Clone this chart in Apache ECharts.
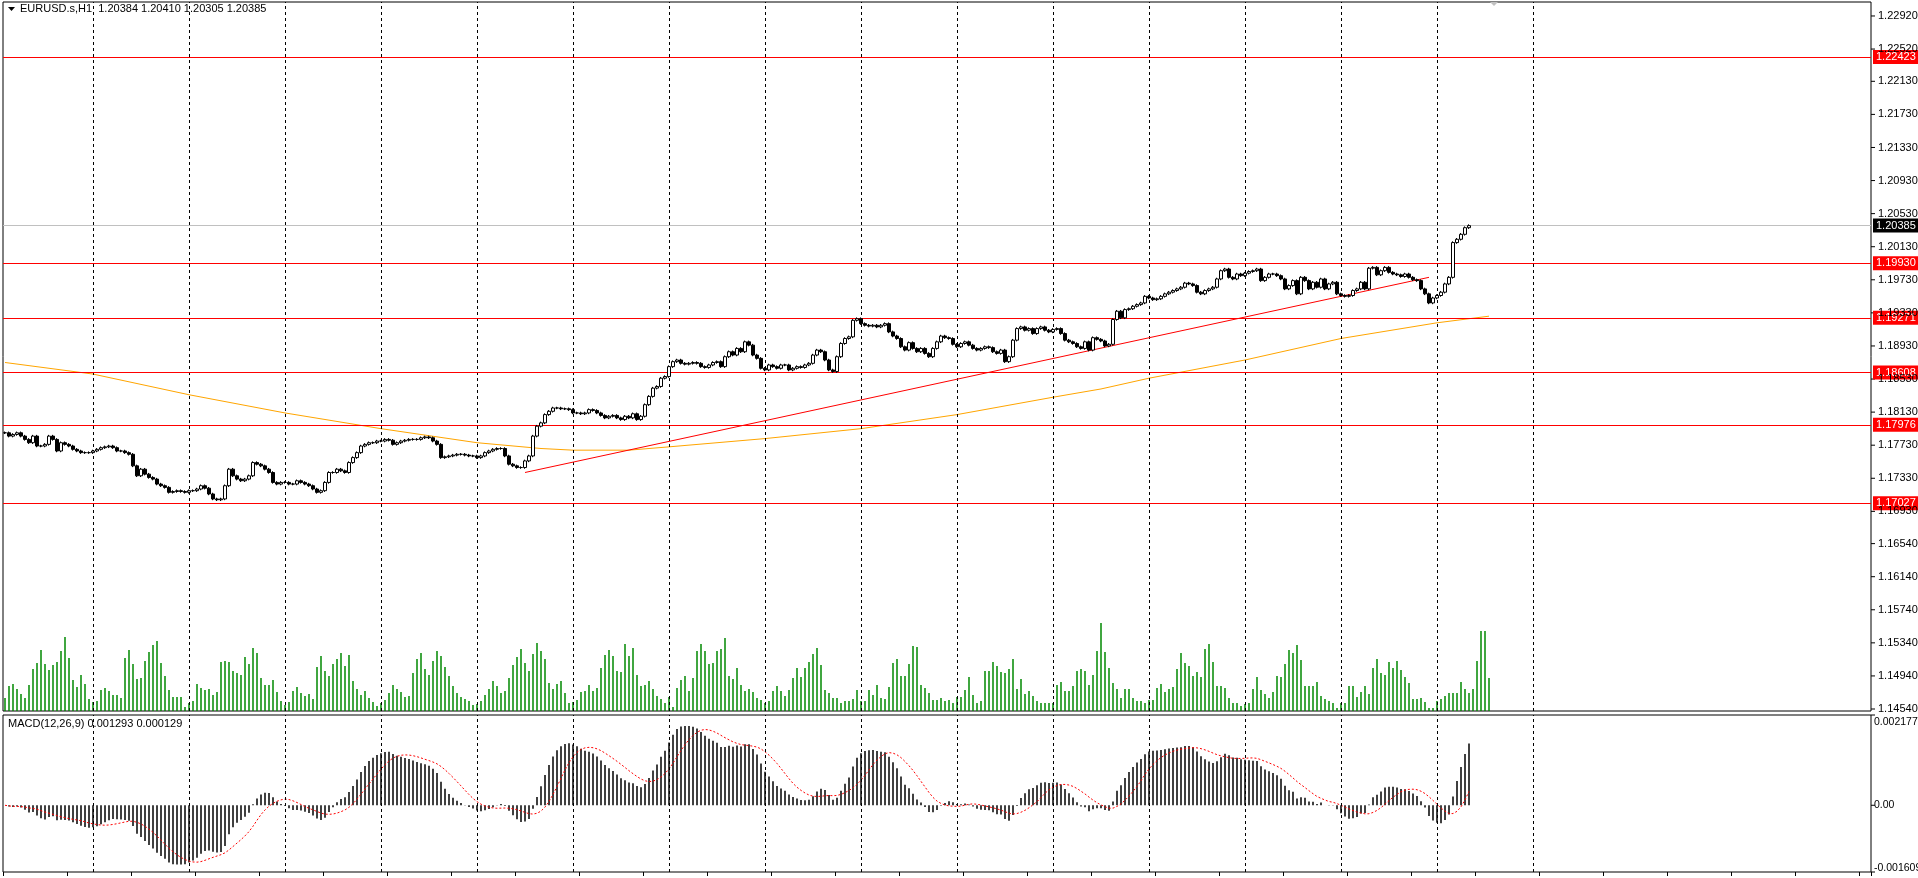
<!DOCTYPE html>
<html><head><meta charset="utf-8">
<script src="https://cdn.jsdelivr.net/npm/echarts@6/dist/echarts.min.js"></script>
<style>html,body{margin:0;padding:0;background:#fff}#c{width:1918px;height:878px}</style>
</head><body><div id="c"></div>
<script>
// ---- data ----
const closes = [
// day 0
1.1788,1.1784,1.1786,1.1788,1.1784,1.1780,1.1776,1.1784,1.1772,1.1772,1.1774,1.1784,1.1780,1.1766,1.1776,1.1774,1.1772,1.1768,1.1766,1.1764,1.1764,1.1764,
// day 1
1.1766,1.1768,1.1770,1.1771,1.1772,1.1770,1.1766,1.1766,1.1764,1.1762,1.1748,1.1736,1.1744,1.1738,1.1734,1.1732,1.1726,1.1724,1.1722,1.1716,1.1717,1.1718,1.1717,1.1716,
// day 2
1.1718,1.1718,1.1720,1.1724,1.1721,1.1714,1.1708,1.1707,1.1708,1.1724,1.1744,1.1736,1.1732,1.1730,1.1732,1.1736,1.1752,1.1750,1.1748,1.1744,1.1740,1.1728,1.1726,1.1728,
// day 3
1.1728,1.1726,1.1726,1.1730,1.1728,1.1726,1.1724,1.1720,1.1716,1.1718,1.1728,1.1740,1.1740,1.1744,1.1742,1.1740,1.1752,1.1758,1.1764,1.1772,1.1774,1.1776,1.1776,1.1778,
// day 4
1.1778,1.1780,1.1779,1.1774,1.1776,1.1778,1.1779,1.1780,1.1780,1.1780,1.1782,1.1783,1.1782,1.1778,1.1774,1.1758,1.1759,1.1760,1.1761,1.1762,1.1762,1.1761,1.1760,1.1760,
// day 5
1.1758,1.1760,1.1764,1.1766,1.1768,1.1769,1.1769,1.1760,1.1750,1.1748,1.1746,1.1746,1.1754,1.1760,1.1784,1.1796,1.1800,1.1810,1.1814,1.1818,1.1818,1.1817,1.1817,1.1816,
// day 6
1.1812,1.1812,1.1811,1.1812,1.1816,1.1815,1.1812,1.1809,1.1806,1.1808,1.1809,1.1806,1.1804,1.1808,1.1806,1.1811,1.1804,1.1808,1.1822,1.1832,1.1842,1.1844,1.1854,1.1856,
// day 7
1.1868,1.1874,1.1876,1.1872,1.1871,1.1872,1.1873,1.1872,1.1868,1.1867,1.1870,1.1873,1.1874,1.1868,1.1880,1.1886,1.1882,1.1890,1.1886,1.1898,1.1894,1.1882,1.1878,1.1866,
// day 8
1.1864,1.1870,1.1868,1.1866,1.1870,1.1870,1.1864,1.1866,1.1868,1.1867,1.1870,1.1872,1.1882,1.1888,1.1886,1.1876,1.1864,1.1862,1.1880,1.1896,1.1902,1.1904,1.1924,1.1926,
// day 9
1.1920,1.1918,1.1917,1.1918,1.1916,1.1918,1.1920,1.1910,1.1905,1.1902,1.1892,1.1888,1.1897,1.1890,1.1886,1.1890,1.1884,1.1880,1.1890,1.1898,1.1905,1.1903,1.1902,1.1895,
// day 10
1.1892,1.1896,1.1898,1.1894,1.1890,1.1888,1.1890,1.1892,1.1891,1.1886,1.1884,1.1888,1.1874,1.1880,1.1900,1.1914,1.1916,1.1912,1.1914,1.1908,1.1914,1.1916,1.1912,1.1910,
// day 11 - 15
1.1913,1.1914,1.1908,1.1900,1.1898,1.1896,1.1892,1.1890,1.1898,1.1888,
1.1903,1.1901,1.1899,1.1893,1.1895,1.1925,1.1935,1.1927,1.1937,1.1938,
1.1941,1.1943,1.1945,1.1953,1.1951,1.1949,1.1950,1.1953,1.1956,1.1958,
1.1960,1.1962,1.1964,1.1969,1.1968,1.1966,1.1958,1.1956,1.1960,1.1962,
1.1964,1.1974,1.1984,1.1986,1.1976,1.1974,1.1980,1.1978,1.1981,1.1983,
1.1984,1.1986,1.1972,1.1976,1.1980,1.1980,1.1978,1.1974,1.1962,1.1966,
1.1972,1.1956,1.1976,1.1972,1.1962,1.1970,1.1964,1.1974,1.1962,1.1968,
1.1970,1.1956,1.1954,1.1953,1.1954,1.1960,1.1962,1.1970,1.1962,1.1987,
1.1988,1.1979,1.1984,1.1988,1.1982,1.1980,1.1979,1.1977,1.1980,1.1976,
1.1973,1.1972,1.1962,1.1956,1.1945,1.1951,1.1954,1.1958,1.1968,1.1976,
1.2018,1.2022,1.2028,1.2036,1.20385
];
const volumes = [
13,25,27,22,17,13,26,42,48,61,47,41,46,49,60,74,53,31,24,36,27,12,
9,10,21,23,20,16,16,13,53,61,47,32,33,50,59,66,70,48,35,21,14,14,14,4,
8,10,27,23,21,22,16,19,49,50,49,40,38,36,54,47,63,58,33,26,26,31,19,10,
6,9,20,24,18,15,17,12,44,55,40,35,47,52,58,45,56,30,22,16,20,13,9,5,
8,11,18,26,22,19,14,15,38,52,58,42,36,50,60,55,44,35,25,18,14,12,10,6,
7,10,16,22,30,25,18,20,33,46,54,62,48,40,57,68,60,52,28,22,27,30,18,8,
9,11,19,20,26,20,23,43,56,61,55,40,39,67,55,63,36,25,26,30,22,15,12,8,
14,4,23,31,35,20,33,60,67,60,47,48,60,62,73,35,32,43,26,20,22,19,13,11,
8,10,20,25,20,15,21,33,43,34,43,49,57,63,46,21,18,13,13,8,10,10,12,21,
10,10,21,16,26,13,12,24,48,52,35,35,47,65,64,26,23,18,11,11,13,10,11,8,
14,14,21,34,16,8,10,40,40,49,45,39,38,42,52,22,32,17,20,15,10,8,8,8,
8,26,29,20,20,25,40,42,40,26,36,60,88,59,43,28,22,13,22,22,13,10,10,8,
11,11,23,27,19,22,24,42,58,48,45,35,39,34,62,67,49,25,25,23,13,8,8,5,
7,8,22,34,21,17,13,19,35,34,47,61,58,66,51,25,25,25,29,15,12,10,8,3,
8,8,25,25,14,19,25,17,43,52,38,36,49,43,50,41,34,28,12,12,13,9,3,3,
10,12,15,18,18,18,29,22,18,22,50,80,80,33
];
const maIdx = [0,22,46,70,94,118,134,142,156,166,190,214,238,262,274,286,310,334,358,371];
const maVal = [1.1873,1.1859,1.1834,1.1812,1.1793,1.1776,1.1769,1.1767,1.1767,1.1771,1.1781,1.1793,1.1810,1.1831,1.1841,1.1854,1.1876,1.1902,1.1921,1.1929];
const levels = [1.22423,1.19930,1.19271,1.18608,1.17976,1.17027];
const lastPrice = 1.20385;
const trendFrom = [130,1.1740], trendTo = [356,1.1976];
const priceTicks = [1.22920,1.22520,1.22130,1.21730,1.21330,1.20930,1.20530,1.20130,1.19730,1.19330,1.18930,1.18530,1.18130,1.17730,1.17330,1.16930,1.16540,1.16140,1.15740,1.15340,1.14940,1.14540];
const macdTicks = [0.002177,0,-0.001609];
const macdTickText = ['0.002177','0.00','-0.001609'];
const dayStarts = [22,46,70,94,118,142,166,190,214,238,262,286,310,334,358,382];
const SLOTS = 467;

// ---- build ----
const cats = Array.from({length:SLOTS},(_,i)=>String(i));
const ohlc = closes.map((c,i)=>{const o=i?closes[i-1]:c;return [o,c,Math.min(o,c)-0.00015,Math.max(o,c)+0.00015];});
// MACD(12,26,9) derived from the closes (EMA12-EMA26, signal = SMA9)
function ema(arr,n){const k=2/(n+1);let out=[];arr.forEach((v,i)=>out.push(i?out[i-1]+k*(v-out[i-1]):v));return out;}
const e12=ema(closes,12), e26=ema(closes,26);
const macd=closes.map((_,i)=>e12[i]-e26[i]);
const signal=macd.map((_,i)=>{const s=Math.max(0,i-8);const a=macd.slice(s,i+1);return a.reduce((x,y)=>x+y,0)/a.length;});
const maData = cats.map(()=>null); maIdx.forEach((ix,k)=>maData[ix]=maVal[k]);

const vlines = dayStarts.map(d=>({xAxis:String(d)}));
const vlineCfg = {silent:true,symbol:'none',animation:false,label:{show:false},lineStyle:{color:'#000',type:[3,3],width:1},data:vlines};
const lvlLabel=(bg,fg,v)=>({show:true,position:'end',distance:2,formatter:v.toFixed(5),backgroundColor:bg,color:fg,padding:[2,3,1,3],fontFamily:'Liberation Sans',fontSize:11});

const chart = echarts.init(document.getElementById('c'));
chart.setOption({
  animation:false,
  grid:[
    {left:3,top:2,width:1868,height:709,show:true,borderColor:'#000',borderWidth:1,backgroundColor:'#fff'},
    {left:3,top:611,width:1868,height:100},
    {left:3,top:715,width:1868,height:157,show:true,borderColor:'#000',borderWidth:1}
  ],
  xAxis:[
    {type:'category',data:cats,gridIndex:0,boundaryGap:true,show:false},
    {type:'category',data:cats,gridIndex:1,boundaryGap:true,show:false},
    {type:'category',data:cats,gridIndex:2,boundaryGap:true,position:'bottom',axisLine:{show:false,onZero:false},axisLabel:{show:false},splitLine:{show:false},
      axisTick:{show:true,interval:15,length:4,lineStyle:{color:'#000'}}}
  ],
  yAxis:[
    {type:'value',gridIndex:0,min:1.14516,max:1.23089,show:false,splitLine:{show:false}},
    {type:'value',gridIndex:1,min:0,max:100,show:false,splitLine:{show:false}},
    {type:'value',gridIndex:2,min:-0.001609,max:0.002177,show:false,splitLine:{show:false}}
  ],
  series:[
    {type:'bar',xAxisIndex:1,yAxisIndex:1,data:volumes,barWidth:1.5,itemStyle:{color:'#008800'},silent:true,z:1},
    {type:'line',xAxisIndex:0,yAxisIndex:0,data:maData,connectNulls:true,showSymbol:false,lineStyle:{color:'#ffa500',width:1},silent:true,z:2},
    {type:'candlestick',xAxisIndex:0,yAxisIndex:0,data:ohlc,barWidth:3,silent:true,z:5,
      itemStyle:{color:'#fff',color0:'#000',borderColor:'#000',borderColor0:'#000',borderWidth:1},
      markLine:{silent:true,symbol:'none',animation:false,precision:5,data:[
        ...vlines.map(v=>Object.assign({lineStyle:{color:'#000',type:[3,3],width:1},label:{show:false}},v)),
        ...levels.map(v=>({yAxis:v,lineStyle:{color:'#ff0000',type:'solid',width:1},label:lvlLabel('#ff0000','#fff',v)})),
        {yAxis:lastPrice,lineStyle:{color:'#c0c0c0',type:'solid',width:1},label:lvlLabel('#000','#fff',lastPrice)},
        [{coord:[String(trendFrom[0]),trendFrom[1]],lineStyle:{color:'#ff0000',type:'solid',width:1},label:{show:false}},{coord:[String(trendTo[0]),trendTo[1]]}]
      ]}},
    {type:'bar',xAxisIndex:2,yAxisIndex:2,data:macd,barWidth:1.5,itemStyle:{color:'#000'},silent:true,markLine:vlineCfg},
    {type:'line',xAxisIndex:2,yAxisIndex:2,data:signal,showSymbol:false,lineStyle:{color:'#ff0000',type:[2,2],width:1},silent:true}
  ]
});
const g=[];
const tx=(x,y,t,o)=>g.push({type:'text',x,y,z:10,style:Object.assign({text:t,fill:'#000',font:'11px "Liberation Sans"',textVerticalAlign:'middle'},o||{})});
priceTicks.forEach(v=>{const y=chart.convertToPixel({yAxisIndex:0},v);
  g.push({type:'line',shape:{x1:1871,y1:y,x2:1875,y2:y},style:{stroke:'#000'}}); tx(1878,y,v.toFixed(5));});
macdTicks.forEach((v,k)=>{const y=chart.convertToPixel({yAxisIndex:2},v);
  g.push({type:'line',shape:{x1:1871,y1:y,x2:1875,y2:y},style:{stroke:'#000'}}); tx(1874,Math.min(Math.max(y,722),868),macdTickText[k],{font:'10.5px "Liberation Sans"'});});
tx(20,9,'EURUSD.s,H1  1.20384 1.20410 1.20305 1.20385');
g.push({type:'polygon',shape:{points:[[8,7],[15,7],[11.5,11]]},style:{fill:'#000'}});
tx(8,724,'MACD(12,26,9) 0.001293 0.000129');
g.push({type:'polygon',shape:{points:[[1490,2],[1498,2],[1494,6]]},style:{fill:'#c0c0c0'}});
chart.setOption({graphic:g});
</script></body></html>
